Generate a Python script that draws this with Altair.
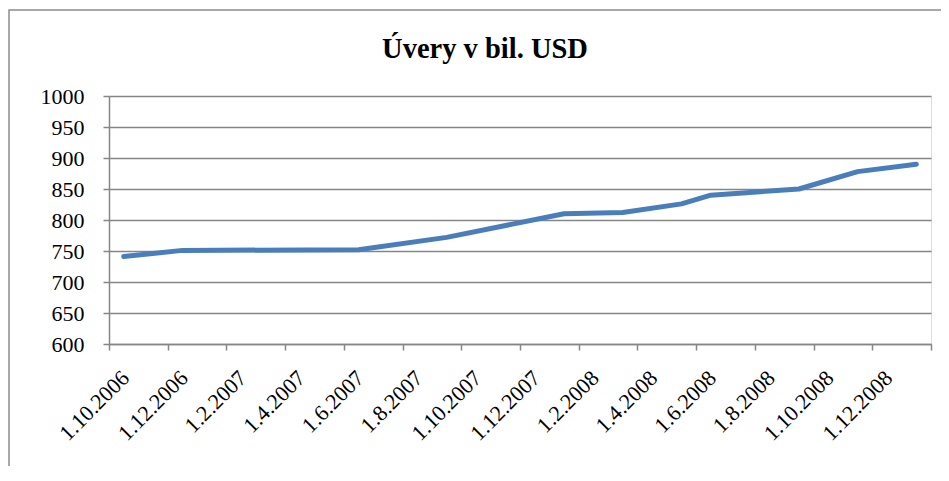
import altair as alt
import pandas as pd

# Data (first day of month, value in bil. USD)
dates = ["1.10.2006", "1.12.2006", "1.6.2007", "1.9.2007", "1.1.2008", "1.3.2008",
         "1.5.2008", "1.6.2008", "1.9.2008", "1.11.2008", "1.1.2009"]
values = [741, 751, 752, 772, 810, 812, 826, 840, 850, 878, 890]

y_ticks = [600, 650, 700, 750, 800, 850, 900, 950, 1000]
x_tick_months = list(range(0, 29, 2))  # month index from Oct 2006, every 2 months
title_text = "Úvery v bil. USD"

def month_index(s):
    d, m, y = (int(p) for p in s.split("."))
    return (y - 2006) * 12 + (m - 10)

df = pd.DataFrame({
    "datum": dates,
    "mesiac": [month_index(s) + 0.5 for s in dates],
    "hodnota": values,
})

GRAY = "#868686"
FONT = "'Liberation Serif', 'Times New Roman', 'DejaVu Serif', serif"

label_expr = ("datum.value >= 28 ? '' : '1.' + (((9 + datum.value) % 12) + 1) + '.' + "
              "(2006 + floor((9 + datum.value) / 12))")

line = alt.Chart(df).mark_line(color="#4a7ebb", strokeWidth=5, strokeCap="round",
                               strokeJoin="round").encode(
    x=alt.X("mesiac:Q",
            scale=alt.Scale(domain=[0, 28], nice=False, zero=False),
            axis=alt.Axis(values=x_tick_months, labelExpr=label_expr, title=None,
                          grid=False, labelAngle=-45, labelAlign="right",
                          labelBaseline="middle", labelOffset=16, labelPadding=24,
                          tickSize=6, tickColor=GRAY, tickWidth=1.5,
                          domainColor=GRAY, domainWidth=1.5,
                          labelFont=FONT, labelFontSize=22, labelColor="black",
                          labelOverlap=False)),
    y=alt.Y("hodnota:Q",
            scale=alt.Scale(domain=[600, 1000], nice=False, zero=False),
            axis=alt.Axis(values=y_ticks, format="d", title=None, grid=True,
                          gridColor=GRAY, gridWidth=1.4, tickSize=6, tickColor=GRAY,
                          tickWidth=1.5, domainColor=GRAY, domainWidth=1.5,
                          labelPadding=19, labelFont=FONT, labelFontSize=22,
                          labelColor="black")),
)

frame = alt.Chart(pd.DataFrame({"a": [0]})).mark_rect(
    fill=None, stroke="#8c8c8c", strokeWidth=1.5
).encode(
    x=alt.value(-100), x2=alt.value(900), y=alt.value(-86), y2=alt.value(500)
)

title = alt.Chart(pd.DataFrame({"t": [title_text]})).mark_text(
    font=FONT, fontSize=28.5, fontWeight="bold", color="black",
    align="center", baseline="alphabetic"
).encode(text="t:N", x=alt.value(376), y=alt.value(-38))

chart = alt.layer(frame, line, title).properties(
    width=822, height=248,
    autosize=alt.AutoSizeParams(type="none"),
    padding={"left": 101, "top": 88, "right": 10, "bottom": 122},
).configure_view(strokeWidth=0).configure(background="white")

chart.save("out.html", embed_options={"renderer": "svg", "actions": False})
